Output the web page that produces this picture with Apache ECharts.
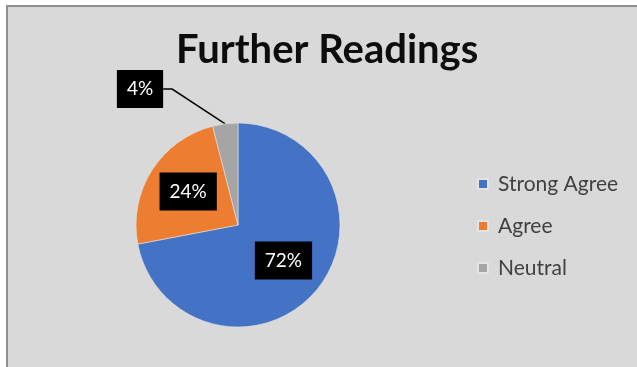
<!DOCTYPE html>
<html>
<head>
<meta charset="utf-8">
<script src="https://cdn.jsdelivr.net/npm/echarts@6/dist/echarts.min.js"></script>
<style>
  html, body { margin: 0; padding: 0; background: #ffffff; width: 637px; height: 367px; overflow: hidden; }
  #frame {
    position: absolute; left: 6px; top: 5px; width: 631px; height: 362px;
    border-top: 2px solid #8f8f8f; border-left: 2px solid #8f8f8f;
    background: #d9d9d9; box-sizing: border-box;
  }
  #chart { width: 629px; height: 360px; }
</style>
</head>
<body>
<div id="frame"><div id="chart"></div></div>
<script>
// Survey responses for "Further Readings"
const categories = ['Strong Agree', 'Agree', 'Neutral'];
const shares = [72, 24, 4];
const colors = ['#4472c4', '#ed7d31', '#a5a5a5'];

const total = shares.reduce((a, b) => a + b, 0);

// push the two large inside labels a little further out from the centre
const insidePush = 5;
let cum = 0;
const pieData = categories.map((name, i) => {
  const mid = (90 - 360 * (cum + shares[i] / 2) / total) * Math.PI / 180;
  cum += shares[i];
  const item = { name, value: shares[i], itemStyle: { color: colors[i] } };
  if (i < 2) {
    item.label = {
      position: 'inside',
      offset: [insidePush * Math.cos(mid), -insidePush * Math.sin(mid) - 2]
    };
    item.labelLine = { show: false };
  } else {
    item.label = { position: 'outside' };
    item.labelLine = { show: true, length: 20, length2: 9 };
  }
  return item;
});

const chart = echarts.init(document.getElementById('chart'), null, { renderer: 'canvas' });
chart.setOption({
  backgroundColor: '#d9d9d9',
  animation: false,
  title: {
    text: 'Further Readings',
    left: 163,
    top: 18,
    textStyle: { fontFamily: 'Lato', fontWeight: 'bold', fontSize: 40, color: '#0d0d0d' }
  },
  legend: {
    orient: 'vertical',
    left: 464,
    top: 161,
    itemWidth: 10,
    itemHeight: 10,
    itemGap: 20,
    icon: 'rect',
    data: categories,
    textStyle: { fontFamily: 'Lato', fontSize: 21, color: '#404040', lineHeight: 22, padding: [0, 0, 0, 5] }
  },
  series: [{
    type: 'pie',
    center: [230, 218],
    radius: 102,
    startAngle: 90,
    clockwise: true,
    avoidLabelOverlap: false,
    data: pieData,
    itemStyle: { borderColor: '#e4e4e4', borderWidth: 0.6 },
    label: {
      show: true,
      formatter: '{c}%',
      color: '#ffffff',
      fontFamily: 'Lato',
      fontSize: 19,
      backgroundColor: '#000000',
      padding: [10, 10, 9, 10]
    },
    labelLine: { lineStyle: { color: '#000000', width: 1.5 } },
    labelLayout: function (params) {
      if (params.dataIndex === 2) {
        return { x: 132, y: 82, align: 'center', verticalAlign: 'middle' };
      }
      return {};
    }
  }]
});
</script>
</body>
</html>
